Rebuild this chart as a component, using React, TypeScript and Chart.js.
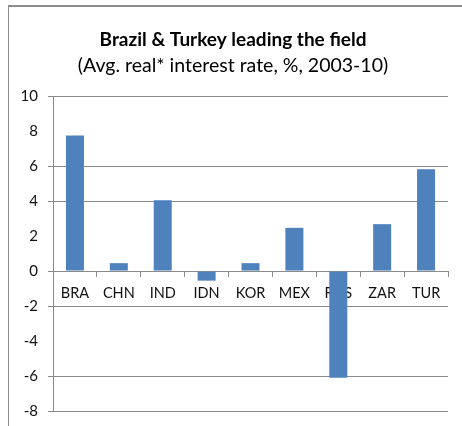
import React, { useEffect, useRef } from "react";
import { Chart, registerables } from "chart.js";

Chart.register(...registerables);

const categories = ["BRA", "CHN", "IND", "IDN", "KOR", "MEX", "RUS", "ZAR", "TUR"];
const rates = [7.75, 0.45, 4.05, -0.55, 0.45, 2.47, -6.1, 2.68, 5.82];
const titleText = "Brazil & Turkey leading the field";
const subtitleText = "(Avg. real* interest rate, %, 2003-10)";
const hiddenGridValues = [8, 2, -4];

const FONT = "Lato, 'Open Sans', sans-serif";
const GRID = "#8a8a8a";

export default function App() {
  const ref = useRef<HTMLCanvasElement | null>(null);

  useEffect(() => {
    if (!ref.current) return;
    const chart = new Chart(ref.current, {
      type: "bar",
      data: {
        labels: categories,
        datasets: [
          {
            data: rates,
            backgroundColor: "#4F81BD",
            borderWidth: 0,
            barPercentage: 0.41,
            categoryPercentage: 1,
          },
        ],
      },
      options: {
        animation: false,
        responsive: false,
        devicePixelRatio: 1,
        layout: { padding: { left: 18, right: 14, top: 0, bottom: 15 } },
        plugins: {
          legend: { display: false },
          tooltip: { enabled: false },
          title: {
            display: true,
            text: titleText,
            color: "#000",
            font: { family: FONT, size: 19, weight: "bold", lineHeight: 1.2 },
            padding: { top: 28.6, bottom: 1 },
          },
          subtitle: {
            display: true,
            text: subtitleText,
            color: "#000",
            font: { family: FONT, size: 19.5, weight: "normal", lineHeight: 1.2 },
            padding: { top: 2, bottom: 18.3 },
          },
        },
        scales: {
          x: {
            position: { y: 0 },
            afterFit: (scale: any) => {
              scale.paddingLeft = 0;
              scale.paddingRight = 0;
            },
            grid: {
              display: true,
              drawOnChartArea: false,
              drawTicks: true,
              tickLength: 5,
              offset: true,
              color: GRID,
            },
            border: { display: true, color: GRID, width: 1 },
            ticks: {
              color: "#111",
              font: { family: FONT, size: 14.5 },
              padding: 9,
              maxRotation: 0,
              autoSkip: false,
            },
          },
          y: {
            min: -8,
            max: 10,
            afterFit: (scale: any) => {
              scale.width = 35;
              scale.paddingTop = 0;
              scale.paddingBottom = 0;
            },
            grid: {
              color: (ctx: any) =>
                ctx.tick && hiddenGridValues.includes(ctx.tick.value) ? "rgba(0,0,0,0)" : GRID,
              tickLength: 5,
              drawTicks: true,
            },
            border: { display: true, color: GRID, width: 1 },
            ticks: {
              stepSize: 2,
              color: "#111",
              font: { family: FONT, size: 15 },
              padding: 10,
            },
          },
        },
      },
    });
    return () => chart.destroy();
  }, []);

  return (
    <div style={{ position: "fixed", left: 0, top: 0, width: 462, height: 426, background: "#fff", overflow: "hidden" }}>
      <div
        style={{
          position: "absolute",
          left: 8,
          top: 5,
          width: 470,
          height: 440,
          borderTop: "2px solid #8c8c8c",
          borderLeft: "1px solid #8c8c8c",
        }}
      />
      <canvas ref={ref} width={462} height={426} style={{ position: "absolute", left: 0, top: 0 }} />
    </div>
  );
}
